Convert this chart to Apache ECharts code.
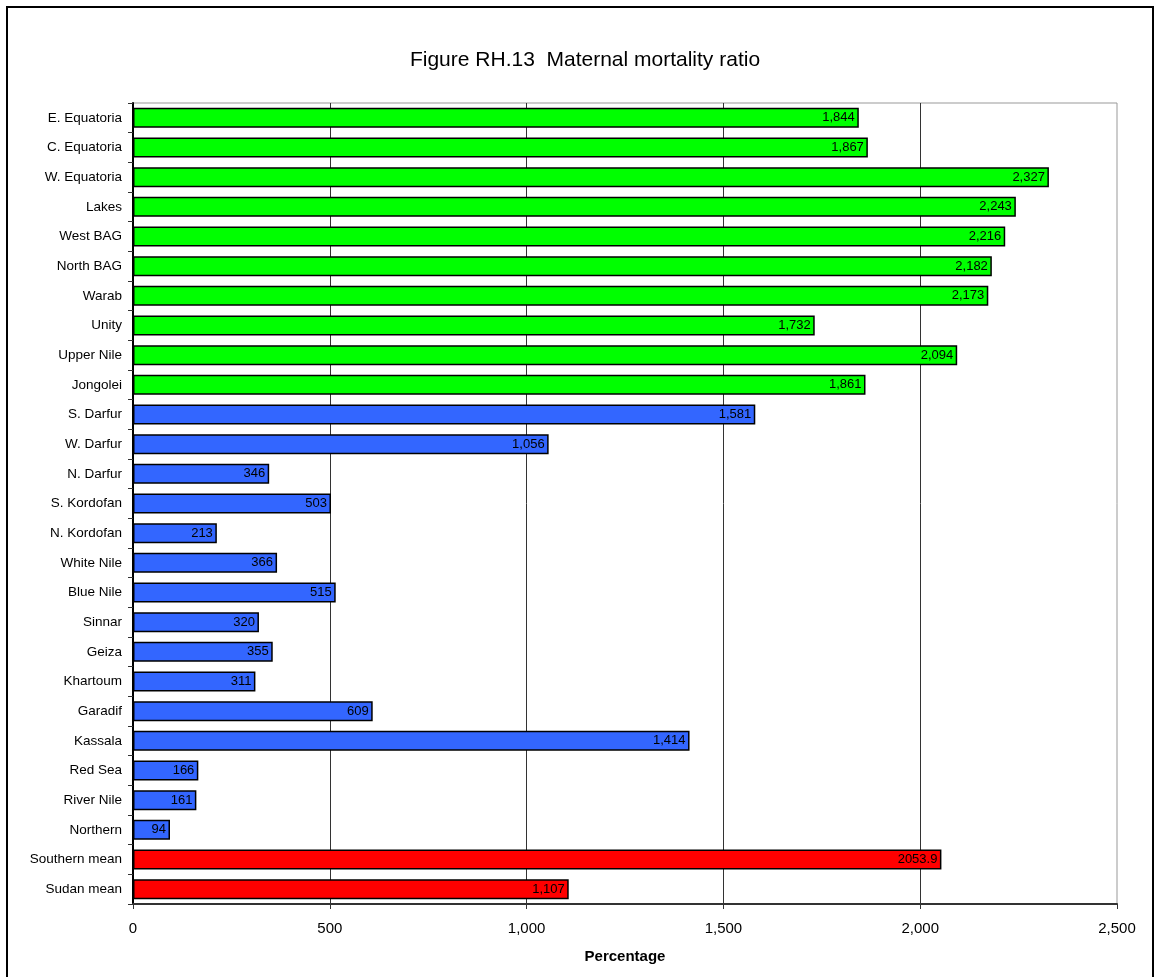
<!DOCTYPE html>
<html>
<head>
<meta charset="utf-8">
<title>Maternal mortality ratio</title>
<script src="https://cdn.jsdelivr.net/npm/echarts@6/dist/echarts.min.js"></script>
<style>
  html, body { margin: 0; padding: 0; background: #fff; }
  #chart { width: 1157px; height: 977px; }
</style>
</head>
<body>
<div id="chart"></div>
<script>
  // categories, top to bottom
  const states = [
    'E. Equatoria', 'C. Equatoria', 'W. Equatoria', 'Lakes', 'West BAG',
    'North BAG', 'Warab', 'Unity', 'Upper Nile', 'Jongolei',
    'S. Darfur', 'W. Darfur', 'N. Darfur', 'S. Kordofan', 'N. Kordofan',
    'White Nile', 'Blue Nile', 'Sinnar', 'Geiza', 'Khartoum',
    'Garadif', 'Kassala', 'Red Sea', 'River Nile', 'Northern',
    'Southern mean', 'Sudan mean'
  ]
  const ratios = [
    1844, 1867, 2327, 2243, 2216,
    2182, 2173, 1732, 2094, 1861,
    1581, 1056, 346, 503, 213,
    366, 515, 320, 355, 311,
    609, 1414, 166, 161, 94,
    2053.9, 1107
  ]
  // which group each bar belongs to (sets colour)
  const groups = [
    'south', 'south', 'south', 'south', 'south',
    'south', 'south', 'south', 'south', 'south',
    'north', 'north', 'north', 'north', 'north',
    'north', 'north', 'north', 'north', 'north',
    'north', 'north', 'north', 'north', 'north',
    'mean', 'mean'
  ]
  const xTicks = [0, 500, 1000, 1500, 2000, 2500]

  const groupColor = { south: '#00ff00', north: '#3366ff', mean: '#ff0000' }

  // 整数加千分位，小数原样显示
  function fmt (v) {
    return Number.isInteger(v) ? v.toLocaleString('en-US') : String(v)
  }

  const myChart = echarts.init(document.getElementById('chart'), null, { renderer: 'canvas' })

  myChart.setOption({
    animation: false,
    backgroundColor: '#fff',
    textStyle: { fontFamily: 'Liberation Sans, Arial, sans-serif' },
    title: {
      text: 'Figure RH.13  Maternal mortality ratio',
      left: 580,
      top: 45,
      textAlign: 'center',
      textStyle: { fontSize: 21, fontWeight: 'normal', color: '#000' }
    },
    graphic: [
      {
        type: 'rect',
        shape: { x: 7, y: 7, width: 1146, height: 990 },
        style: { fill: 'none', stroke: '#000', lineWidth: 2 },
        silent: true
      }
    ],
    grid: {
      left: 133,
      right: 40,
      top: 103,
      bottom: 73,
      show: true,
      borderColor: '#999',
      borderWidth: 1,
      containLabel: false
    },
    xAxis: {
      type: 'value',
      min: xTicks[0],
      max: xTicks[xTicks.length - 1],
      interval: 500,
      name: 'Percentage',
      nameLocation: 'middle',
      nameGap: 45,
      nameTextStyle: { fontSize: 15, fontWeight: 'bold', color: '#000' },
      axisLine: { show: true, lineStyle: { color: '#333', width: 2 } },
      axisTick: { show: true, length: 5, lineStyle: { color: '#333' } },
      axisLabel: {
        margin: 17,
        fontSize: 15,
        color: '#000',
        formatter: v => v.toLocaleString('en-US')
      },
      splitLine: {
        show: true,
        showMinLine: false,
        showMaxLine: false,
        lineStyle: { color: '#333', width: 1 }
      }
    },
    yAxis: {
      type: 'category',
      inverse: true,
      data: states,
      axisLine: { show: true, lineStyle: { color: '#000', width: 2 } },
      axisTick: { show: true, length: 5, lineStyle: { color: '#333' } },
      axisLabel: { margin: 11, fontSize: 13.5, color: '#000' },
      splitLine: { show: false }
    },
    series: [
      {
        name: 'Maternal mortality ratio',
        type: 'bar',
        barWidth: 20,
        data: ratios.map((v, i) => ({
          value: v,
          itemStyle: {
            color: groupColor[groups[i]],
            borderColor: '#000',
            borderWidth: 1.5
          }
        })),
        label: {
          show: true,
          position: 'insideRight',
          distance: 4,
          fontSize: 13,
          color: '#000',
          formatter: p => fmt(p.value)
        }
      }
    ]
  })
</script>
</body>
</html>
